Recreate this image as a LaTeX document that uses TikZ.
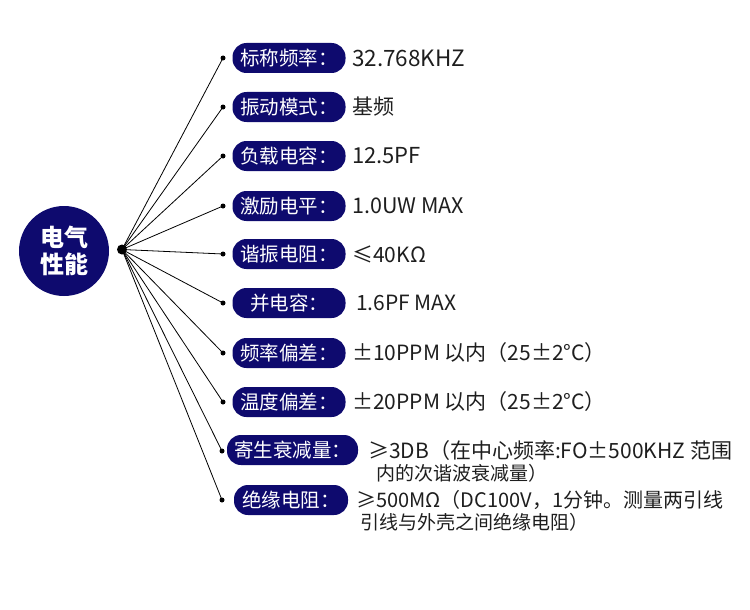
\documentclass[tikz,border=0pt]{standalone}
\usepackage{fontspec}
\newfontfamily\cjk{Noto Sans CJK SC}
\usetikzlibrary{positioning}
\definecolor{navy}{RGB}{14,10,110}
\definecolor{valgray}{RGB}{30,30,30}
\tikzset{
    pill/.style={ % label boxes
        rectangle,
        rounded corners=14pt,
        fill=navy,
        text=white,
        minimum height=30pt,
        minimum width=113pt,
        inner sep=0pt,
        font=\cjk\fontsize{19.5}{19.5}\selectfont
    },
    value/.style={anchor=west, inner sep=0pt, text=valgray,
        font=\cjk\fontsize{21}{21}\selectfont},
    dot/.style={circle, fill=black, inner sep=0pt, minimum size=5pt},
    spoke/.style={draw, line width=0.8pt, black}
}

\begin{document}
\begin{tikzpicture}[x=1pt,y=-1pt]
\useasboundingbox (0,0) rectangle (750,610);
\node [circle,fill=navy,minimum size=90pt,inner sep=0pt,text=white,align=center,
       font=\cjk\bfseries\fontsize{24}{27}\selectfont] (elec) at (64,251) {电气\\性能};
\node [circle,fill=black,inner sep=0pt,minimum size=10pt] (hub) at (122,249.5) {};

\node [dot] (d1) at (223,58) {};
\node [dot] (d2) at (223,107) {};
\node [dot] (d3) at (223,156) {};
\node [dot] (d4) at (223,206) {};
\node [dot] (d5) at (223,254) {};
\node [dot] (d6) at (223,303) {};
\node [dot] (d7) at (223,353) {};
\node [dot] (d8) at (223,402) {};
\node [dot] (d9) at (222,451) {};
\node [dot] (d10) at (222,500) {};

\foreach \i in {1,...,10}
    \draw [spoke] (hub.center) -- (d\i.center);

\node [pill] (p1) at (289,58) {标称频率：};
\node [pill] (p2) at (289,107) {振动模式：};
\node [pill] (p3) at (289,156) {负载电容：};
\node [pill] (p4) at (289,206) {激励电平：};
\node [pill] (p5) at (289,254) {谐振电阻：};
\node [pill] (p6) at (289,303) {并电容：};
\node [pill] (p7) at (289,353) {频率偏差：};
\node [pill] (p8) at (289,402) {温度偏差：};
\node [pill,minimum width=131pt] (p9) at (292.5,450) {寄生衰减量：};
\node [pill,minimum width=114pt] (p10) at (291,500) {绝缘电阻：};

\node [value,font=\cjk\fontsize{22.5}{22.5}\selectfont] (v1) at (352,58) {32.768KHZ};
\node [value] (v2) at (352,107) {基频};
\node [value,font=\cjk\fontsize{22}{22}\selectfont] (v3) at (352,156) {12.5PF};
\node [value,font=\cjk\fontsize{21.5}{21.5}\selectfont] (v4) at (352,206) {1.0UW MAX};
\node [value] (v5) at (352,254) {≤40KΩ};
\node [value] (v6) at (356,303) {1.6PF MAX};
\node [value] (v7) at (352,353) {±10PPM 以内（25±2°C）};
\node [value] (v8) at (352,402) {±20PPM 以内（25±2°C）};
\node [value] (v9) at (368,451) {≥3DB（在中心频率:FO±500KHZ 范围};
\node [value,font=\cjk\fontsize{19}{19}\selectfont] (v9b) at (376,473) {内的次谐波衰减量）};
\node [value,font=\cjk\fontsize{20}{20}\selectfont] (v10) at (356,500) {≥500MΩ（DC100V，1分钟。测量两引线};
\node [value,font=\cjk\fontsize{19}{19}\selectfont] (v10b) at (360,522) {引线与外壳之间绝缘电阻）};
\end{tikzpicture}
\end{document}
